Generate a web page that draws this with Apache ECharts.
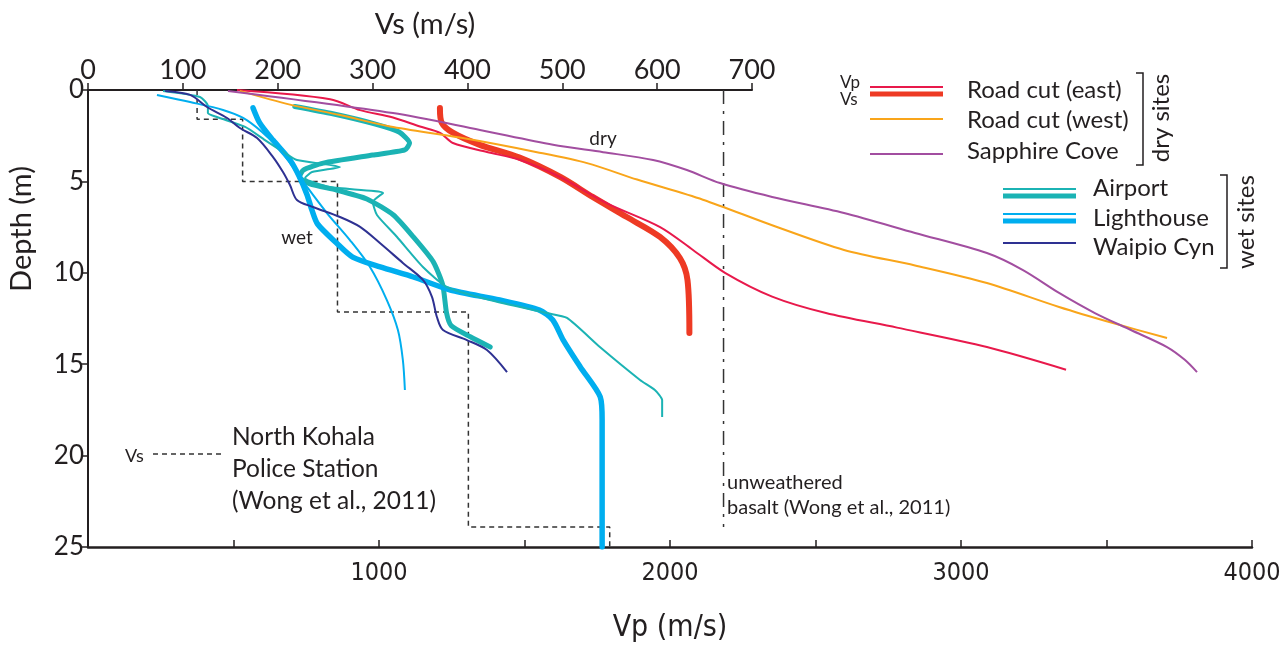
<!DOCTYPE html>
<html><head><meta charset="utf-8">
<script src="https://cdn.jsdelivr.net/npm/echarts@6/dist/echarts.min.js"></script>
<style>html,body{margin:0;padding:0;background:#fff}#c{width:1287px;height:647px}</style>
</head><body><div id="c"></div>
<script>
// ---- Data: [velocity (m/s), depth (m)] ----
// Vp profiles (bottom axis)
const roadEastVp = [[512,0],[832,0.5],[935,1.1],[1048,1.5],[1141,2.0],[1210,2.35],[1254,2.9],[1371,3.39],[1485,3.83],[1622,4.76],[1784,6.2],[1966,7.5],[2079,8.75],[2189,10.0],[2351,11.3],[2536,12.2],[2780,13.0],[3089,14.06],[3361,15.3]];
const roadWestVp = [[522,0.05],[694,0.8],[866,1.37],[1038,2.0],[1278,2.6],[1543,3.4],[1715,4.0],[1887,4.9],[2113,6.0],[2351,7.4],[2598,8.75],[2842,9.6],[3089,10.56],[3337,11.87],[3522,12.75],[3708,13.57]];
const sapphireVp = [[481,0.05],[1048,1.26],[1347,2.19],[1598,3.0],[1770,3.4],[1942,3.83],[2058,4.38],[2172,5.09],[2351,5.85],[2598,6.73],[2842,7.82],[3089,8.92],[3213,9.85],[3337,11.1],[3460,12.2],[3584,13.13],[3708,14.06],[3770,14.77],[3811,15.43]];
const airportVp = [[258,0.05],[385,0.38],[412,0.88],[412,1.26],[443,1.48],[540,2.02],[608,2.74],[677,3.45],[718,3.83],[866,4.21],[770,4.49],[746,4.81],[832,5.31],[1014,5.63],[979,6.13],[993,6.84],[1062,8.04],[1151,9.68],[1234,10.78],[1381,11.49],[1577,12.2],[1646,12.47],[1759,14.06],[1897,15.86],[1948,16.41],[1973,16.96],[1973,17.89]];
const lighthouseVp = [[237,0.27],[351,0.66],[464,1.09],[533,1.53],[598,2.3],[660,3.28],[711,4.38],[753,5.31],[821,6.73],[900,8.21],[969,9.68],[1027,11.49],[1065,13.13],[1082,14.77],[1089,16.41]];
const waipioVp = [[265,0.05],[351,0.27],[409,0.93],[478,1.53],[522,2.08],[581,2.63],[636,3.67],[670,4.49],[694,5.2],[718,6.02],[773,6.4],[866,6.95],[935,7.49],[1003,8.37],[1082,9.46],[1151,10.39],[1182,11.32],[1199,12.42],[1220,13.13],[1302,13.68],[1371,14.22],[1440,15.43]];
// Vs profiles (top axis)
const roadEastVs = [[371,0.98],[373,1.8],[385,2.35],[413,3.0],[455,3.7],[498,4.76],[532,5.85],[568,6.95],[603,8.04],[624,9.2],[632,10.4],[634,13.3]];
const airportVs = [[218,0.9],[258,1.3],[302,1.85],[328,2.3],[339,2.9],[334,3.28],[300,3.56],[248,4.0],[227,4.38],[223,4.76],[234,5.14],[262,5.47],[294,5.96],[322,6.84],[343,8.04],[364,9.4],[374,10.67],[378,12.2],[383,12.9],[403,13.5],[424,14.06]];
const lighthouseVs = [[174,0.98],[181,1.8],[195,2.74],[213,3.83],[223,4.76],[231,5.74],[236,6.56],[242,7.33],[262,8.37],[279,9.14],[308,9.68],[343,10.23],[382,10.94],[434,11.49],[476,12.04],[490,12.58],[501,13.68],[519,15.15],[540,16.79],[542,18.05],[542,25]];
const northKohalaVs = [[115,0],[115,1.6],[163,1.6],[163,5.0],[263,5.0],[263,12.15],[401,12.15],[401,23.9],[550,23.9],[550,25]];
const basaltVs = [[670,0],[670,23.9]];
// Axis ticks
const depthTicks = [0,5,10,15,20,25];
const vsTicks = [0,100,200,300,400,500,600,700];
const vpLabels = [1000,2000,3000,4000];

const FONT = 'Lato, "Open Sans", sans-serif';
const NARROW = '"Liberation Sans Narrow", "DejaVu Sans Condensed", Lato, sans-serif';
const INK = '#231F20';
const C = {red:'#E8194B', redS:'#EE3A24', orange:'#F9A51A', purple:'#A24EA0', teal:'#1BB3B4', blue:'#00AEEF', navy:'#2E3192'};

function thin(data, color, smooth){ return {type:'line', xAxisIndex:0, yAxisIndex:0, data, symbol:'none', smooth: smooth==null?0.3:smooth, lineStyle:{color, width:2}, z:3}; }
function thick(data, color, w, smooth){ return {type:'line', xAxisIndex:1, yAxisIndex:1, data, symbol:'none', smooth: smooth==null?0.3:smooth, lineStyle:{color, width:w, cap:'round', join:'round'}, z:2}; }

function T(x,y,s,size,opt){ opt=opt||{}; return {type:'text', x, y, rotation:opt.rot||0, silent:true, z:10, style:{text:s, fill:INK, fontSize:size, fontFamily:opt.family||FONT, textAlign:opt.align||'left', align:opt.align||'left', textVerticalAlign:'middle', verticalAlign:'middle', lineHeight:opt.lh||size}}; }
function L(x1,y1,x2,y2,color,w,dash){ return {type:'line', silent:true, z:10, shape:{x1,y1,x2,y2}, style:{stroke:color, lineWidth:w, lineDash:dash||null}}; }
function P(points,color,w){ return {type:'polyline', silent:true, z:10, shape:{points}, style:{stroke:color, lineWidth:w, fill:null}}; }

const chart = echarts.init(document.getElementById('c'));
chart.setOption({
  animation:false,
  backgroundColor:'#fff',
  grid:[
    {left:88, right:35, top:90, bottom:100},
    {left:88, width:664, top:90, height:457}
  ],
  xAxis:[
    {type:'value', gridIndex:0, position:'bottom', min:0, max:4000, interval:500,
     axisLine:{onZero:false, lineStyle:{color:INK, width:2.5}},
     axisTick:{inside:true, length:7, lineStyle:{color:INK, width:1.5}},
     axisLabel:{margin:14, fontSize:25, fontFamily:NARROW, color:INK, formatter:v=> vpLabels.indexOf(v)>=0 ? String(v) : ''},
     splitLine:{show:false}},
    {type:'value', gridIndex:1, position:'top', min:0, max:700, interval:100,
     axisLine:{onZero:false, lineStyle:{color:INK, width:2}},
     axisTick:{length:7, lineStyle:{color:INK, width:1.5}},
     axisLabel:{margin:6, fontSize:27, fontFamily:FONT, color:INK, formatter:v=> vsTicks.indexOf(v)>=0 ? String(v) : ''},
     splitLine:{show:false}},
  ],
  yAxis:[
    {type:'value', gridIndex:0, min:0, max:25, interval:5, inverse:true,
     axisLine:{onZero:false, lineStyle:{color:INK, width:2}},
     axisTick:{length:7, lineStyle:{color:INK, width:1.5}},
     axisLabel:{margin:4, fontSize:26, fontFamily:FONT, color:INK, formatter:v=> depthTicks.indexOf(v)>=0 ? String(v) : ''},
     splitLine:{show:false}},
    {type:'value', gridIndex:1, min:0, max:25, interval:5, inverse:true, show:false}
  ],
  series:[
    // Vs (thick)
    thick(roadEastVs, C.redS, 6),
    thick(airportVs, C.teal, 5, 0.2),
    thick(lighthouseVs, C.blue, 5.5, 0.25),
    // Vp (thin)
    thin(roadEastVp, C.red),
    thin(roadWestVp, C.orange),
    thin(sapphireVp, C.purple),
    thin(airportVp, C.teal, 0.2),
    thin(lighthouseVp, C.blue),
    thin(waipioVp, C.navy),
    // Reference profiles
    {type:'line', xAxisIndex:1, yAxisIndex:1, data:northKohalaVs, symbol:'none', lineStyle:{color:'#333', width:1.5, type:[5,4]}, z:1},
    {type:'line', xAxisIndex:1, yAxisIndex:1, data:basaltVs, symbol:'none', lineStyle:{color:'#333', width:1.5, type:[14,7,3,7]}, z:1}
  ],
  graphic:[
    T(425,25,'Vs (m/s)',29,{align:'center'}),
    T(670,628,'Vp (m/s)',30,{align:'center', family:NARROW}),
    T(22,229,'Depth (m)',29,{align:'center', rot:Math.PI/2}),
    T(603,139,'dry',19,{align:'center'}),
    T(297,238,'wet',19,{align:'center'}),
    T(125,456,'Vs',18),
    L(153,454,222,454,'#333',1.5,[5,4]),
    T(232,437,'North Kohala',24.5),
    T(232,469,'Police Station',24.5),
    T(232,501,'(Wong et al., 2011)',24.5),
    T(727,483,'unweathered',20),
    T(727,508,'basalt (Wong et al., 2011)',20),
    // legend: dry sites
    T(840,83,'Vp',17),
    T(840,100,'Vs',17),
    L(870,87,943,87,C.red,2),
    L(870,94,943,94,C.redS,5),
    L(870,119,943,119,C.orange,2),
    L(870,154,943,154,C.purple,2),
    T(967,90,'Road cut (east)',24),
    T(967,120,'Road cut (west)',24),
    T(967,151,'Sapphire Cove',24),
    P([[1136,73],[1143,73],[1143,165],[1136,165]],INK,1.5),
    T(1161,118,'dry sites',24,{align:'center', rot:Math.PI/2}),
    // legend: wet sites
    L(1003,189,1076,189,C.teal,2),
    L(1003,196,1076,196,C.teal,5),
    L(1003,214,1076,214,C.blue,2),
    L(1003,221,1076,221,C.blue,5),
    L(1003,243,1076,243,C.navy,2),
    T(1093,188,'Airport',24),
    T(1093,218,'Lighthouse',24),
    T(1093,247,'Waipio Cyn',24),
    P([[1220,175],[1227,175],[1227,268],[1220,268]],INK,1.5),
    T(1246,222,'wet sites',24,{align:'center', rot:Math.PI/2})
  ]
});
</script></body></html>
